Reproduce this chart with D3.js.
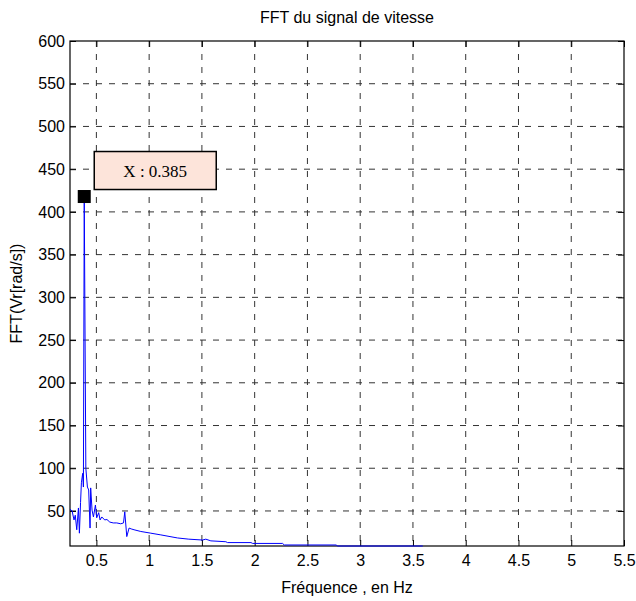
<!DOCTYPE html>
<html>
<head>
<meta charset="utf-8">
<script src="https://cdn.jsdelivr.net/npm/d3@7"></script>
<style>
  body { margin: 0; background: #fff; }
  svg text { font-family: "Liberation Sans", Arial, sans-serif; fill: #000; }
</style>
</head>
<body>
<div id="chart"></div>
<script>
// spectrum values (Hz, amplitude)
var freq = [0.250, 0.270, 0.288, 0.300, 0.314, 0.330, 0.339, 0.350, 0.358, 0.370, 0.377, 0.385, 0.400, 0.415,
            0.427, 0.440, 0.446, 0.459, 0.472, 0.491, 0.503, 0.522, 0.535, 0.551, 0.579, 0.600, 0.627, 0.660,
            0.693, 0.731, 0.757, 0.769, 0.788, 0.810, 0.830, 0.857, 0.921, 1.016, 1.111, 1.269, 1.376, 1.506,
            1.537, 1.585, 1.727, 1.743, 1.965, 1.981, 2.265, 2.280, 2.771, 2.787, 3.593];
var amp  = [52, 50, 39.5, 45, 28, 53.5, 24, 60, 83, 94, 78, 418, 100, 78,
            74.6, 30, 77, 51, 43, 57, 42, 48, 39.5, 43, 39.5, 40, 37, 36,
            36, 35, 36, 49, 20, 30, 29, 28, 26, 24, 22, 18.4, 17, 16,
            17, 15, 14, 13, 13, 12, 12, 10.2, 10.2, 9, 9];
var xTicks = [0.5, 1, 1.5, 2, 2.5, 3, 3.5, 4, 4.5, 5, 5.5];
var yTicks = [50, 100, 150, 200, 250, 300, 350, 400, 450, 500, 550, 600];
var peak = { x: 0.385, y: 418 };

var width = 636, height = 601;
var margin = { top: 41, right: 12, bottom: 55, left: 70 };
var w = width - margin.left - margin.right;
var h = height - margin.top - margin.bottom;

var svg = d3.select("#chart").append("svg")
    .attr("width", width)
    .attr("height", height);

var g = svg.append("g")
    .attr("transform", "translate(" + margin.left + "," + margin.top + ")");

var x = d3.scaleLinear().domain([0.25, 5.5]).range([0, w]);
var y = d3.scaleLinear().domain([9, 600]).range([h, 0]);

// dashed grid
g.append("g").selectAll("line.vg")
    .data(xTicks.filter(function(d){ return d < 5.5; }))
    .enter().append("line")
    .attr("x1", function(d){ return x(d); })
    .attr("x2", function(d){ return x(d); })
    .attr("y1", 0).attr("y2", h)
    .attr("stroke", "#333").attr("stroke-dasharray", "6,7");

g.append("g").selectAll("line.hg")
    .data(yTicks.filter(function(d){ return d < 600; }))
    .enter().append("line")
    .attr("y1", function(d){ return y(d); })
    .attr("y2", function(d){ return y(d); })
    .attr("x1", 0).attr("x2", w)
    .attr("stroke", "#333").attr("stroke-dasharray", "6,7");

// axes with inward ticks
var xAxis = d3.axisBottom(x).tickValues(xTicks).tickSizeInner(-6).tickSizeOuter(0).tickPadding(9)
    .tickFormat(d3.format("~g"));
var yAxis = d3.axisLeft(y).tickValues(yTicks).tickSizeInner(-6).tickSizeOuter(0).tickPadding(5);

g.append("g").attr("class", "axis")
    .attr("transform", "translate(0," + h + ")")
    .call(xAxis);
g.append("g").attr("class", "axis")
    .call(yAxis);
g.append("g").attr("class", "axis")
    .call(d3.axisTop(x).tickValues(xTicks).tickSizeInner(-6).tickSizeOuter(0).tickFormat(""));
g.append("g").attr("class", "axis")
    .attr("transform", "translate(" + w + ",0)")
    .call(d3.axisRight(y).tickValues(yTicks).tickSizeInner(-6).tickSizeOuter(0).tickFormat(""));

g.selectAll(".axis path").remove();
g.selectAll(".axis line").attr("stroke", "#000");
g.selectAll(".axis text").style("font-size", "16px").style("font-family", "Liberation Sans, Arial, sans-serif");

// box
g.append("rect")
    .attr("x", 0).attr("y", 0).attr("width", w).attr("height", h)
    .attr("fill", "none").attr("stroke", "#000").attr("stroke-width", 1.2);

// spectrum line
var pts = freq.map(function(f, i){ return [f, amp[i]]; });
var line = d3.line()
    .x(function(d){ return x(d[0]); })
    .y(function(d){ return y(d[1]); });

g.append("path")
    .datum(pts)
    .attr("d", line)
    .attr("fill", "none")
    .attr("stroke", "#0000ff")
    .attr("stroke-width", 1);

// data tip
var px = x(peak.x), py = y(peak.y);
g.append("rect")
    .attr("x", px - 6.5).attr("y", py - 6.5)
    .attr("width", 13).attr("height", 13)
    .attr("fill", "#000");

g.append("rect")
    .attr("x", px + 10).attr("y", py - 45)
    .attr("width", 122).attr("height", 38)
    .attr("fill", "#fde4da")
    .attr("stroke", "#000").attr("stroke-width", 1.5);

g.append("text")
    .attr("x", px + 71).attr("y", py - 20)
    .attr("text-anchor", "middle")
    .style("font-family", "Liberation Serif, Times New Roman, serif")
    .style("font-size", "17px")
    .text("X : " + peak.x);

// title and labels
svg.append("text")
    .attr("x", margin.left + w / 2).attr("y", 23)
    .attr("text-anchor", "middle")
    .style("font-size", "16px")
    .text("FFT du signal de vitesse");

svg.append("text")
    .attr("x", margin.left + w / 2).attr("y", 593)
    .attr("text-anchor", "middle")
    .style("font-size", "16px")
    .text("Fréquence , en Hz");

svg.append("text")
    .attr("transform", "translate(22," + (margin.top + h / 2) + ") rotate(-90)")
    .attr("text-anchor", "middle")
    .style("font-size", "16px")
    .text("FFT(Vr[rad/s])");
</script>
</body>
</html>
